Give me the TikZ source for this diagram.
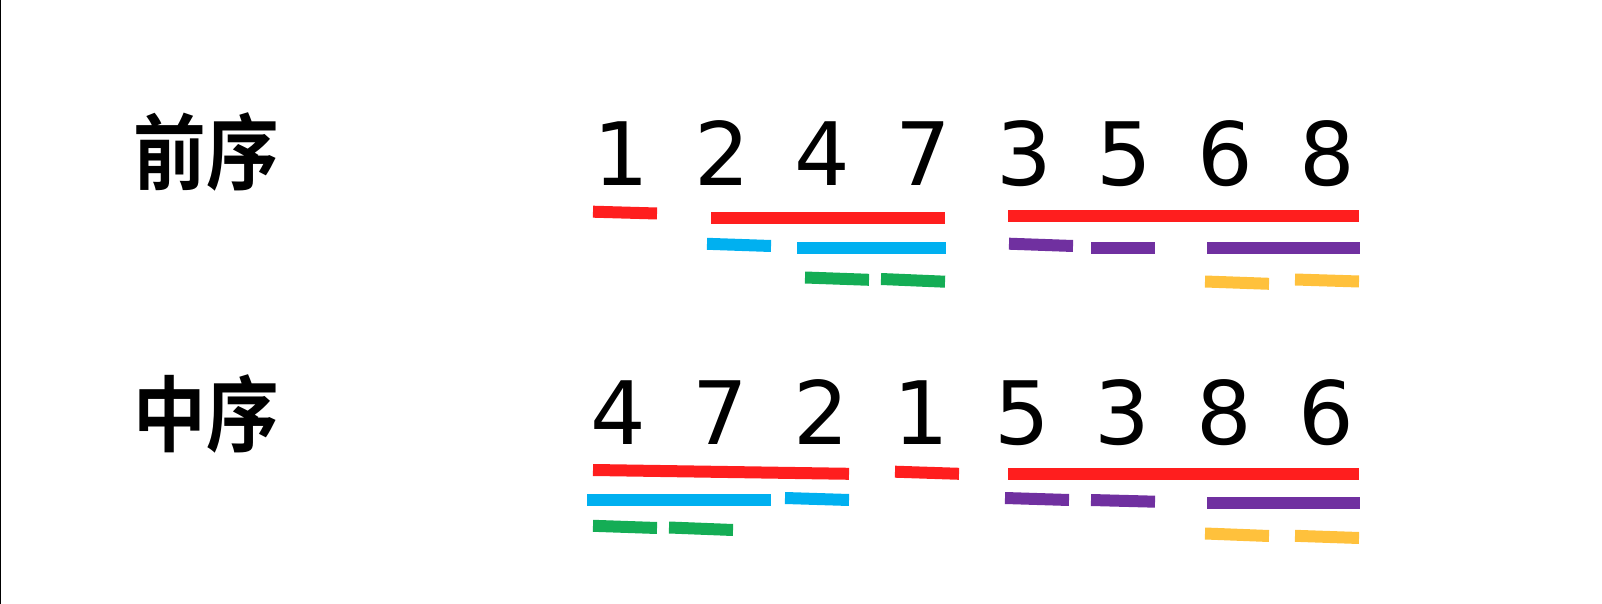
\documentclass[tikz,border=0pt]{standalone}
\usepackage{fontspec}
\usepackage{graphicx}
\setmainfont{DejaVu Sans}
\newfontfamily\cjk{Noto Sans CJK SC Bold}
\definecolor{barred}{HTML}{FF1E1E}
\definecolor{barblue}{HTML}{00B0F0}
\definecolor{bargreen}{HTML}{14AD55}
\definecolor{barpurple}{HTML}{7030A0}
\definecolor{baryellow}{HTML}{FFC13C}
\newcommand\rowtext[1]{\scalebox{0.88}[1]{\cjk\fontsize{47}{56}\selectfont #1}}
\begin{document}
\begin{tikzpicture}[x=0.02cm,y=-0.02cm,
  digit/.style={anchor=base,inner sep=0pt,font=\fontsize{49.8}{60}\selectfont},
  rowname/.style={inner sep=0pt},
  segbar/.style={line width=0.24cm,line cap=butt}]
\useasboundingbox (0,0) rectangle (1602,604);
\draw[line width=0.03cm] (0.75,0) -- (0.75,604);
\node[rowname] (pre) at (206,151.5) {\rowtext{前序}};
\node[rowname] (ino) at (206,413.5) {\rowtext{中序}};
\foreach \d/\x [count=\i] in {1/621,2/722,4/822,7/923,3/1024,5/1124,6/1225,8/1327}
  \node[digit] (p\i) at (\x,186) {\d};
\foreach \d/\x [count=\i] in {4/618,7/720,2/821,1/921,5/1022,3/1122,8/1224,6/1326}
  \node[digit] (i\i) at (\x,444) {\d};
\foreach \xa/\ya/\xb/\yb in {593/211.7/657/213.5,711/218/945/218,1008/215.7/1359/215.7,
    593/470/849/473.8,895/471.7/959/473.8,1008/473.7/1359/473.7}
  \draw[segbar,barred] (\xa,\ya) -- (\xb,\yb);
\foreach \xa/\ya/\xb/\yb in {707/243.8/771/246,797/247.8/946/247.8,587/500/771/500,785/498/849/500}
  \draw[segbar,barblue] (\xa,\ya) -- (\xb,\yb);
\foreach \xa/\ya/\xb/\yb in {805/277.5/869/279.8,881/279/945/281.7,593/525.8/657/528,669/527.5/733/530}
  \draw[segbar,bargreen] (\xa,\ya) -- (\xb,\yb);
\foreach \xa/\ya/\xb/\yb in {1009/243.7/1073/246,1091/247.8/1155/247.8,1207/247.8/1360/247.8,
    1005/498/1069/500,1091/500/1155/501.7,1207/503.3/1360/503.3}
  \draw[segbar,barpurple] (\xa,\ya) -- (\xb,\yb);
\foreach \xa/\ya/\xb/\yb in {1205/281.5/1269/283.8,1295/279.5/1359/281.5,1205/533.5/1269/536,1295/535.8/1359/538}
  \draw[segbar,baryellow] (\xa,\ya) -- (\xb,\yb);
\end{tikzpicture}
\end{document}
